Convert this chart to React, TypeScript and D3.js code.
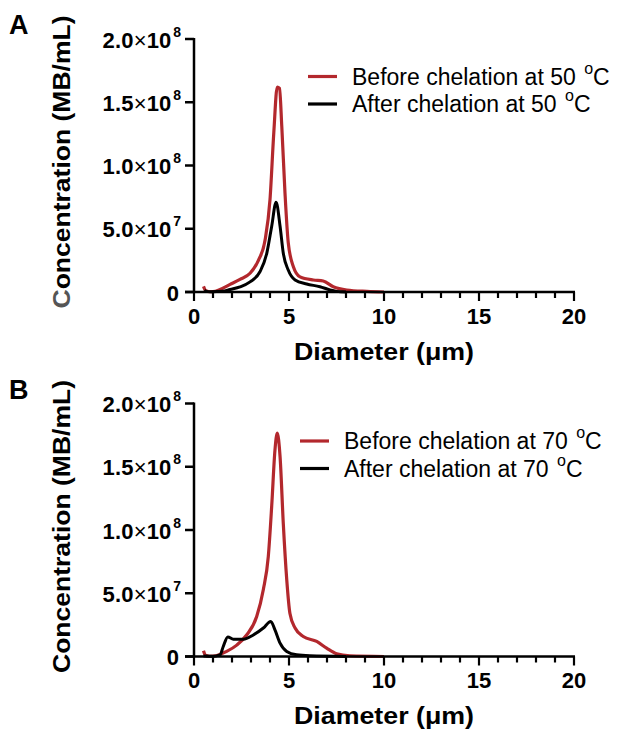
import React from "react";
import * as d3 from "d3";

// ---------- data ----------
const yTicks = [0, 5e7, 1e8, 1.5e8, 2e8];
const xMajorTicks = [0, 5, 10, 15, 20];
const xMinorTicks = d3.range(0, 21, 1);

const panelLabels = ["A", "B"];
const legendBefore = ["Before chelation at 50 ", "Before chelation at 70 "];
const legendAfter = ["After chelation at 50 ", "After chelation at 70 "];

const dA_before = [0.5, 0.62, 0.8, 1.0, 1.37, 1.9, 2.42, 2.95, 3.39, 3.74, 4.0, 4.2, 4.38, 4.5, 4.62, 4.79, 4.96, 5.23, 5.58, 6.28, 6.8, 7.33, 8.04, 9.1, 10];
const vA_before = [4.5e6, 1e6, 0.2e6, 0.3e6, 2e6, 6e6, 10e6, 14.8e6, 25e6, 41e6, 73e6, 126e6, 162e6, 161e6, 131e6, 78e6, 39e6, 20e6, 12e6, 9.5e6, 8.7e6, 4.2e6, 1.6e6, 0.5e6, 0];

const dA_after = [0.55, 0.65, 0.9, 1.5, 1.9, 2.42, 2.95, 3.47, 3.83, 4.09, 4.32, 4.53, 4.7, 4.96, 5.32, 5.93, 6.63, 7.16, 7.5, 8];
const vA_after = [1.5e6, 0.5e6, 0.2e6, 0.5e6, 2e6, 4e6, 8e6, 16e6, 30.6e6, 52e6, 71e6, 52e6, 30.6e6, 17.4e6, 9.5e6, 6.3e6, 4.2e6, 1.6e6, 0.5e6, 0];

const dB_before = [0.5, 0.6, 0.8, 1.02, 1.72, 2.25, 2.77, 3.3, 3.65, 3.91, 4.09, 4.26, 4.38, 4.53, 4.7, 4.88, 5.05, 5.32, 5.75, 6.46, 6.98, 7.51, 8.2, 10];
const vB_before = [4.5e6, 1e6, 0.2e6, 0.3e6, 4e6, 9e6, 17e6, 31.6e6, 53e6, 79e6, 119e6, 163e6, 176.6e6, 158e6, 105e6, 61e6, 34e6, 22.5e6, 15.8e6, 11.9e6, 6.6e6, 2.1e6, 0.5e6, 0];

const dB_after = [0.5, 1.0, 1.37, 1.54, 1.78, 2.07, 2.6, 3.12, 3.65, 4.04, 4.26, 4.53, 4.88, 5.4, 6.1, 8];
const vB_after = [0.3e6, 0.2e6, 1.3e6, 7.9e6, 15.5e6, 13.7e6, 13.7e6, 17e6, 22.5e6, 27.7e6, 21e6, 10.6e6, 4e6, 1.3e6, 0.5e6, 0];

const panels = [
  { before: [dA_before, vA_before], after: [dA_after, vA_after] },
  { before: [dB_before, vB_before], after: [dB_after, vB_after] },
];

// ---------- style ----------
const W = 619;
const H = 732;
const RED = "#b3282d";
const FONT = "Liberation Sans, Arial, Helvetica, sans-serif";

const plotLeft = 194;
const plotRight = 574;
const plotTop = [39, 403.5];
const plotHeight = 253;
const legendX = [308, 300];

function Panel({ idx }: { idx: number }) {
  const top = plotTop[idx];
  const bottom = top + plotHeight;
  const x = d3.scaleLinear().domain([0, 20]).range([plotLeft, plotRight]);
  const y = d3.scaleLinear().domain([0, 2e8]).range([bottom, top]);
  const line = d3
    .line<[number, number]>()
    .x((d) => x(d[0]))
    .y((d) => y(d[1]))
    .curve(d3.curveMonotoneX);
  const p = panels[idx];
  const toPts = (s: number[][]) => s[0].map((d, i) => [d, s[1][i]] as [number, number]);
  const lx = legendX[idx];
  const ly = top + 37.5;

  const fmt = (v: number) => {
    if (v === 0) return { m: "0", e: "" };
    const e = Math.floor(Math.log10(v) + 1e-9);
    return { m: (v / Math.pow(10, e)).toFixed(1), e: String(e) };
  };

  return (
    <g>
      {/* panel letter */}
      <text x={9} y={top - 5} fontFamily={FONT} fontWeight="bold" fontSize={27} fill="#000">
        {panelLabels[idx]}
      </text>

      {/* y title */}
      <text
        transform={`translate(70,${top + 123}) rotate(-90)`}
        textAnchor="middle"
        fontFamily={FONT}
        fontWeight="bold"
        fontSize={23.5}
        textLength={293}
        lengthAdjust="spacingAndGlyphs"
        fill="#000"
      >
        <tspan fill={idx === 0 ? "#555" : "#000"}>C</tspan>oncentration (MB/mL)
      </text>

      {/* curves */}
      <path d={line(toPts(p.before)) || ""} fill="none" stroke={RED} strokeWidth={3.2} strokeLinejoin="round" />
      <path d={line(toPts(p.after)) || ""} fill="none" stroke="#000" strokeWidth={3} strokeLinejoin="round" />

      {/* axes */}
      <line x1={plotLeft} x2={plotLeft} y1={top - 1} y2={bottom} stroke="#000" strokeWidth={2.5} />
      <line x1={plotLeft - 9} x2={plotRight + 1} y1={bottom} y2={bottom} stroke="#000" strokeWidth={2.5} />
      {yTicks.map((t) => {
        const f = fmt(t);
        return (
          <g key={"y" + t}>
            <line x1={plotLeft - 9} x2={plotLeft} y1={y(t)} y2={y(t)} stroke="#000" strokeWidth={2.5} />
            <text
              x={f.e ? plotLeft - 13 : plotLeft - 15}
              y={y(t) + 8.5}
              textAnchor="end"
              fontFamily={FONT}
              fontWeight="bold"
              fontSize={22}
              fill="#000"
            >
              {f.e ? (
                <>
                  <tspan letterSpacing={0.3}>{f.m}</tspan>
                  <tspan fontWeight="normal">×</tspan>
                  <tspan>10</tspan>
                  <tspan fontSize={14} dy={-11} dx={2}>{f.e}</tspan>
                </>
              ) : (
                f.m
              )}
            </text>
          </g>
        );
      })}
      {xMinorTicks.map((t) => (
        <line
          key={"xm" + t}
          x1={x(t)}
          x2={x(t)}
          y1={bottom}
          y2={bottom + (t % 5 === 0 ? 9 : 6)}
          stroke="#000"
          strokeWidth={2.2}
        />
      ))}
      {xMajorTicks.map((t) => (
        <text
          key={"xl" + t}
          x={x(t)}
          y={bottom + 31.5}
          textAnchor="middle"
          fontFamily={FONT}
          fontWeight="bold"
          fontSize={22}
          fill="#000"
        >
          {t}
        </text>
      ))}

      {/* x title */}
      <text
        x={(plotLeft + plotRight) / 2}
        y={bottom + 67.5}
        textAnchor="middle"
        fontFamily={FONT}
        fontWeight="bold"
        fontSize={24}
        textLength={180}
        lengthAdjust="spacingAndGlyphs"
        fill="#000"
      >
        Diameter (μm)
      </text>

      {/* legend */}
      <line x1={lx} x2={lx + 29} y1={ly} y2={ly} stroke={RED} strokeWidth={3.2} />
      <line x1={lx} x2={lx + 29} y1={ly + 27.5} y2={ly + 27.5} stroke="#000" strokeWidth={3.2} />
      {[legendBefore[idx], legendAfter[idx]].map((s, i) => (
        <text key={"lg" + i} x={lx + 44} y={ly + 8.3 + i * 27.5} fontFamily={FONT} fontSize={23} fill="#000">
          {s}
          <tspan fontSize={16} dy={-11} dx={2}>o</tspan>
          <tspan dy={11}>C</tspan>
        </text>
      ))}
    </g>
  );
}

export default function App() {
  return (
    <div style={{ position: "absolute", left: 0, top: 0 }}>
      <svg width={W} height={H} style={{ display: "block", background: "#fff" }}>
        <rect width={W} height={H} fill="#fff" />
        <Panel idx={0} />
        <Panel idx={1} />
      </svg>
    </div>
  );
}
